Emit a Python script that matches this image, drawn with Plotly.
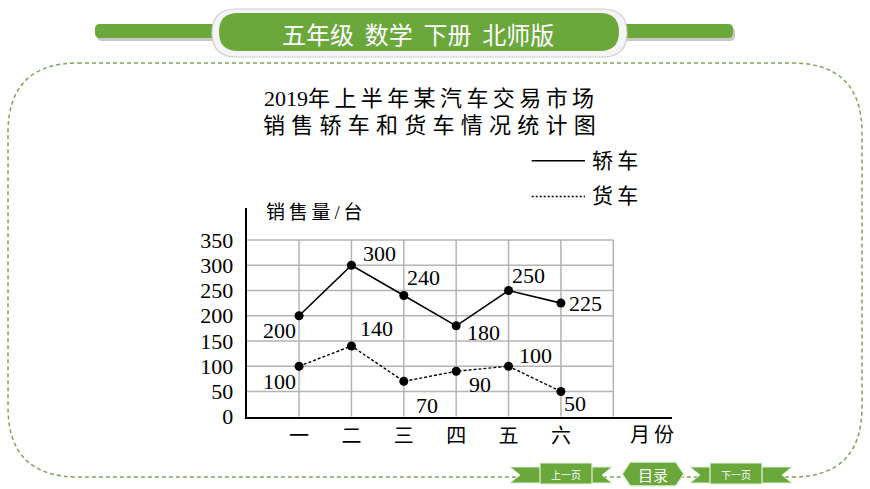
import plotly.graph_objects as go

W, H = 870, 489

# ---------------- data ----------------
months = ["一", "二", "三", "四", "五", "六"]
month_pos = [1, 2, 3, 4, 5, 6]
sedan = [200, 300, 240, 180, 250, 225]
truck = [100, 140, 70, 90, 100, 50]
series_names = ["轿车", "货车"]
y_ticks = [0, 50, 100, 150, 200, 250, 300, 350]
title_lines = ["2019年上半年某汽车交易市场", "销售轿车和货车情况统计图"]
y_title = "销售量/台"
x_title = "月份"
header_text = "五年级  数学  下册  北师版"
nav_texts = ["上一页", "目录", "下一页"]

# label offsets (pixels) - style only
sedan_off = [(-20, -15), (28, 12), (20, 18), (27, -7), (20, 15), (25, 0)]
truck_off = [(-20, -15), (25, 18), (23, -24), (24, -13), (27, 11), (14, -12)]

GREEN = "#6aa83c"
SERIF = "Liberation Serif, Noto Sans CJK SC"
CJK = "Noto Sans CJK SC"


def P(x, y):
    return f"{x / W:.5f},{1 - y / H:.5f}"


def rrect(x0, y0, x1, y1, r):
    return (f"M {P(x0 + r, y0)} L {P(x1 - r, y0)} Q {P(x1, y0)} {P(x1, y0 + r)} "
            f"L {P(x1, y1 - r)} Q {P(x1, y1)} {P(x1 - r, y1)} L {P(x0 + r, y1)} "
            f"Q {P(x0, y1)} {P(x0, y1 - r)} L {P(x0, y0 + r)} Q {P(x0, y0)} {P(x0 + r, y0)} Z")


def poly(pts):
    return "M " + " L ".join(P(x, y) for x, y in pts) + " Z"


def spaced(s, sep="\u2009"):
    return sep.join(list(s))


# axis geometry
x_left, x_right = 246.7, 671.7
y_bot, y_top = 416.7, 208.0
px_per_unit_x = 52.37
x_max = (x_right - x_left) / px_per_unit_x
y_max = 350 * (y_bot - y_top) / (y_bot - 240.0)

fig = go.Figure()

fig.add_trace(go.Scatter(x=month_pos, y=sedan, mode="lines+markers", name=series_names[0],
                         line=dict(color="black", width=1.6),
                         marker=dict(color="black", size=9), showlegend=False))
fig.add_trace(go.Scatter(x=month_pos, y=truck, mode="lines+markers", name=series_names[1],
                         line=dict(color="black", width=1.4, dash="3px,2px"),
                         marker=dict(color="black", size=9), showlegend=False))

shapes = []
# grid
for yv in y_ticks[1:]:
    shapes.append(dict(type="line", xref="x", yref="y", x0=0, x1=7, y0=yv, y1=yv,
                       line=dict(color="#b4b4b4", width=1.5), layer="below"))
for xv in month_pos + [7]:
    shapes.append(dict(type="line", xref="x", yref="y", x0=xv, x1=xv, y0=0, y1=350,
                       line=dict(color="#b4b4b4", width=1.5), layer="below"))

# dashed border
shapes.append(dict(type="path", xref="paper", yref="paper", path=rrect(8, 63, 862, 477, 70),
                   line=dict(color="#7ea35c", width=1.5, dash="4px,3px"), layer="below"))

# header
shapes.append(dict(type="path", xref="paper", yref="paper", path=rrect(97, 27, 226, 41, 5),
                   fillcolor="#c8c8c8", line=dict(width=0), layer="below"))
shapes.append(dict(type="path", xref="paper", yref="paper", path=rrect(95, 24, 226, 38, 5),
                   fillcolor=GREEN, line=dict(width=0), layer="below"))
shapes.append(dict(type="path", xref="paper", yref="paper", path=rrect(612, 27, 735, 41, 5),
                   fillcolor="#c8c8c8", line=dict(width=0), layer="below"))
shapes.append(dict(type="path", xref="paper", yref="paper", path=rrect(612, 24, 733, 38, 5),
                   fillcolor=GREEN, line=dict(width=0), layer="below"))
shapes.append(dict(type="path", xref="paper", yref="paper", path=rrect(212, 9, 627, 57, 24),
                   fillcolor="#f4f4f4", line=dict(color="#cfcfcf", width=1.2), layer="below"))
shapes.append(dict(type="path", xref="paper", yref="paper", path=rrect(219, 13, 619, 51, 19),
                   fillcolor=GREEN, line=dict(width=0), layer="below"))

# nav ribbons
def ribbon(x0, x1):
    return poly([(x0, 467), (x1, 467), (x1 - 10, 475), (x1, 483), (x0, 483), (x0 + 10, 475)])

shapes.append(dict(type="path", xref="paper", yref="paper", path=ribbon(510, 612),
                   fillcolor=GREEN, line=dict(color="#dfeed5", width=1)))
shapes.append(dict(type="path", xref="paper", yref="paper", path=ribbon(690, 792),
                   fillcolor=GREEN, line=dict(color="#dfeed5", width=1)))
shapes.append(dict(type="rect", xref="paper", yref="paper", x0=540 / W, x1=592 / W,
                   y0=1 - 484 / H, y1=1 - 463 / H, fillcolor=GREEN, line=dict(color="#e8f2e0", width=1.2)))
shapes.append(dict(type="rect", xref="paper", yref="paper", x0=710 / W, x1=762 / W,
                   y0=1 - 484 / H, y1=1 - 463 / H, fillcolor=GREEN, line=dict(color="#e8f2e0", width=1.2)))
shapes.append(dict(type="path", xref="paper", yref="paper",
                   path=poly([(622, 474), (630, 462), (676, 462), (684, 474), (676, 486), (630, 486)]),
                   fillcolor=GREEN, line=dict(color="#e8f2e0", width=1.5)))

# legend lines
shapes.append(dict(type="line", xref="paper", yref="paper", x0=531.7 / W, x1=585 / W,
                   y0=1 - 160.7 / H, y1=1 - 160.7 / H, line=dict(color="black", width=1.5)))
shapes.append(dict(type="line", xref="paper", yref="paper", x0=531.7 / W, x1=585 / W,
                   y0=1 - 196.5 / H, y1=1 - 196.5 / H, line=dict(color="black", width=1.5, dash="2px,2px")))

ann = []
# data labels
for xs, vals, offs in ((month_pos, sedan, sedan_off), (month_pos, truck, truck_off)):
    for xv, v, (dx, dy) in zip(xs, vals, offs):
        ann.append(dict(x=xv, y=v, xref="x", yref="y", text=str(v), showarrow=False,
                        xanchor="center", yanchor="middle",
                        xshift=dx, yshift=dy, font=dict(family=SERIF, size=22, color="black")))


def pann(x, y, text, size, family=SERIF, color="black", xanchor="center"):
    ann.append(dict(x=x / W, y=1 - y / H, xref="paper", yref="paper", showarrow=False,
                    xanchor=xanchor, yanchor="middle", text=text,
                    font=dict(family=family, size=size, color=color)))


# title
pann(429, 98, title_lines[0][:4] + spaced(title_lines[0][4:]), 22)
pann(429, 125, spaced(title_lines[1], "\u2009\u200a"), 22)
# legend texts
pann(590, 161, spaced(series_names[0], "\u2009"), 21, xanchor="left")
pann(590, 196, spaced(series_names[1], "\u2009"), 21, xanchor="left")
# y title
pann(264, 213, spaced(y_title, "\u2009"), 19, xanchor="left")
# x title
pann(652, 435, spaced(x_title, "\u2009"), 20)
# header text
pann(418, 33, header_text, 24, family=CJK, color="white")
# nav texts
for t, xc, fs in zip(nav_texts, [566, 653, 736], [10, 15, 10]):
    pann(xc, 474, t, fs, family=CJK, color="white")

fig.update_layout(
    width=W, height=H, autosize=False,
    margin=dict(l=0, r=0, t=0, b=0, pad=0),
    paper_bgcolor="white", plot_bgcolor="rgba(0,0,0,0)",
    shapes=shapes, annotations=ann, showlegend=False,
    xaxis=dict(domain=[x_left / W, x_right / W], range=[0, x_max], showgrid=False, zeroline=False,
               showline=True, linecolor="black", linewidth=2, tickvals=month_pos, ticktext=months,
               ticks="", tickfont=dict(family=SERIF, size=20, color="black"), ticklabelstandoff=0,
               automargin=False, fixedrange=True),
    yaxis=dict(domain=[1 - y_bot / H, 1 - y_top / H], range=[0, y_max], showgrid=False, zeroline=False,
               showline=True, linecolor="black", linewidth=2, tickvals=y_ticks,
               ticks="", tickfont=dict(family=SERIF, size=22, color="black"), ticklabelstandoff=7,
               automargin=False, fixedrange=True),
)

post = "document.body.style.margin='0';document.body.style.overflow='hidden';"

fig.write_html("out.html", config={"displayModeBar": False}, post_script=post)
